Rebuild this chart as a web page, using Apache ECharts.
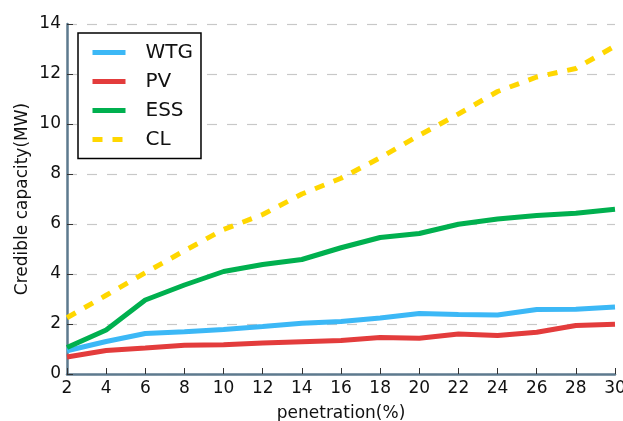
<!DOCTYPE html>
<html>
<head>
<meta charset="utf-8">
<script src="https://cdn.jsdelivr.net/npm/echarts@6/dist/echarts.min.js"></script>
<style>
  html, body { margin: 0; padding: 0; background: #fff; }
  #chart { width: 623px; height: 421px; }
</style>
</head>
<body>
<div id="chart"></div>
<script>
// Penetration levels (%)
const penetration = [2, 4, 6, 8, 10, 12, 14, 16, 18, 20, 22, 24, 26, 28, 30];

// Credible capacity (MW) per resource type
const wtg = [0.93, 1.3, 1.62, 1.69, 1.78, 1.9, 2.03, 2.1, 2.24, 2.42, 2.38, 2.36, 2.58, 2.59, 2.68];
const pv  = [0.68, 0.94, 1.04, 1.15, 1.17, 1.24, 1.29, 1.34, 1.46, 1.43, 1.6, 1.54, 1.67, 1.94, 1.99];
const ess = [1.06, 1.76, 2.96, 3.56, 4.1, 4.38, 4.58, 5.05, 5.46, 5.62, 5.99, 6.2, 6.34, 6.43, 6.59];
const cl  = [2.25, 3.15, 4.05, 4.93, 5.78, 6.38, 7.2, 7.83, 8.65, 9.55, 10.4, 11.3, 11.88, 12.22, 13.12];

const yTicks = [0, 2, 4, 6, 8, 10, 12, 14];

const FONT = 'DejaVu Sans';
const AXIS_COLOR = '#5d7a8e';

function lineSeries(name, data, color, dashed) {
  return {
    name: name,
    type: 'line',
    data: penetration.map((p, i) => [p, data[i]]),
    symbol: 'none',
    showSymbol: false,
    color: color,
    lineStyle: {
      color: color,
      width: 5,
      type: dashed ? [10, 10] : 'solid',
      cap: 'butt'
    },
    emphasis: { disabled: true },
    z: 3
  };
}

const chart = echarts.init(document.getElementById('chart'), null, { renderer: 'canvas' });

chart.setOption({
  animation: false,
  backgroundColor: '#ffffff',
  textStyle: { fontFamily: FONT },
  grid: {
    left: 67, right: 8, top: 24, bottom: 47,
    containLabel: false,
    outerBoundsMode: 'none'
  },
  legend: {
    orient: 'vertical',
    left: 78,
    top: 33,
    padding: [9.5, 8, 9, 12],
    itemGap: 9,
    itemWidth: 33,
    itemHeight: 20,
    backgroundColor: '#ffffff',
    borderColor: '#000000',
    borderWidth: 1.5,
    borderRadius: 0,
    itemStyle: { opacity: 0, borderWidth: 0 },
    lineStyle: { width: 5, cap: 'butt' },
    textStyle: {
      fontFamily: FONT,
      fontSize: 20,
      color: '#111',
      lineHeight: 20,
      padding: [0, 0, 0, 15]
    },
    data: ['WTG', 'PV', 'ESS', 'CL']
  },
  xAxis: {
    type: 'value',
    min: 2,
    max: 30,
    interval: 2,
    name: 'penetration(%)',
    nameLocation: 'middle',
    nameGap: 31,
    nameTextStyle: { fontFamily: FONT, fontSize: 17, color: '#111' },
    axisLine: { show: true, onZero: false, lineStyle: { color: AXIS_COLOR, width: 2.5 } },
    axisTick: { show: true, inside: true, length: 6, lineStyle: { color: '#333', width: 1 } },
    axisLabel: { fontFamily: FONT, fontSize: 17, color: '#111', margin: 6 },
    splitLine: { show: false }
  },
  yAxis: {
    type: 'value',
    min: yTicks[0],
    max: yTicks[yTicks.length - 1],
    interval: 2,
    name: 'Credible capacity(MW)',
    nameLocation: 'middle',
    nameGap: 36,
    nameMoveOverlap: false,
    nameTextStyle: { fontFamily: FONT, fontSize: 17, color: '#111' },
    axisLine: { show: true, lineStyle: { color: AXIS_COLOR, width: 2.5 } },
    axisTick: { show: true, inside: true, length: 6, lineStyle: { color: '#333', width: 1 } },
    axisLabel: { fontFamily: FONT, fontSize: 17, color: '#111', margin: 6 },
    splitLine: { show: true, lineStyle: { color: '#c8c8c8', width: 1.2, type: [10, 10] } }
  },
  series: [
    lineSeries('WTG', wtg, '#3cb8f6', false),
    lineSeries('PV', pv, '#e33c3c', false),
    lineSeries('ESS', ess, '#00b04f', false),
    lineSeries('CL', cl, '#ffd700', true)
  ]
});
</script>
</body>
</html>
